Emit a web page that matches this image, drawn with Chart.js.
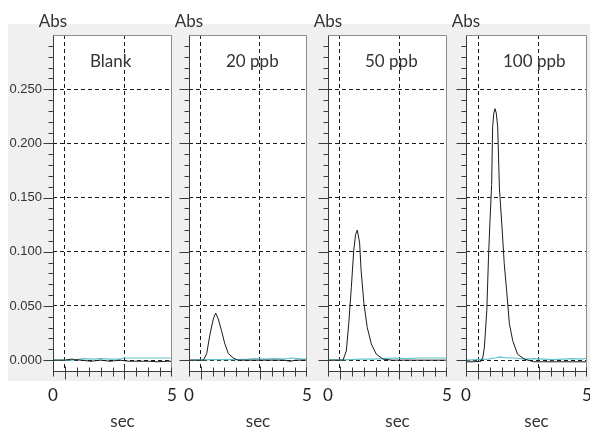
<!DOCTYPE html>
<html>
<head>
<meta charset="utf-8">
<script src="https://cdn.jsdelivr.net/npm/chart.js@4.4.1/dist/chart.umd.min.js"></script>
<style>
html, body { margin: 0; padding: 0; background: #fff; }
#wrap { position: relative; width: 590px; height: 429px; overflow: hidden; }
#bg { position: absolute; left: 8px; top: 24px; width: 582px; height: 357px; background: #f0f0f0; }
canvas { position: absolute; left: 0; top: 0; }
</style>
</head>
<body>
<div id="wrap">
  <div id="bg"></div>
  <canvas id="c0" width="590" height="429"></canvas>
  <canvas id="c1" width="590" height="429"></canvas>
  <canvas id="c2" width="590" height="429"></canvas>
  <canvas id="c3" width="590" height="429"></canvas>
</div>
<script>
// panel titles and tick labels
const panelTitles = ['Blank', '20 ppb', '50 ppb', '100 ppb'];
const yTickLabels = ['0.000', '0.050', '0.100', '0.150', '0.200', '0.250'];
const xTickLabels = ['0', '5'];

// Blank
const blankTime = [0, 0.5, 0.8, 0.9, 1.2, 1.6, 2.0, 2.4, 2.8, 3.2, 3.6, 4.0, 4.4, 4.8, 5.0];
const blankAbs  = [0, 0, 0.001, 0.0005, 0, -0.001, 0, -0.001, 0, -0.001, -0.001, -0.001, -0.0015, -0.001, -0.001];
const blankBkgTime = [0, 0.8, 1.3, 1.7, 2.0, 2.4, 2.8, 3.0, 3.5, 4.0, 4.5, 5.0];
const blankBkg     = [0, 0, 0.0015, 0.001, 0.0015, 0.001, 0.001, 0.002, 0.002, 0.002, 0.002, 0.002];

// 20 ppb
const ppb20Time = [0, 0.3, 0.61, 0.75, 0.89, 1.03, 1.13, 1.24, 1.38, 1.52, 1.67, 1.88, 2.08, 2.5, 3.0, 3.5, 4.0, 4.3, 4.5, 5.0];
const ppb20Abs  = [0, 0, 0, 0.006, 0.024, 0.038, 0.0435, 0.038, 0.027, 0.015, 0.006, 0.002, 0, 0, 0, 0, 0, -0.001, 0, 0];
const ppb20BkgTime = [0, 0.9, 1.5, 2.0, 2.5, 2.8, 3.2, 3.6, 4.0, 4.4, 4.8, 5.0];
const ppb20Bkg     = [0, 0.0005, 0.0005, 0.0005, 0.001, 0.0015, 0.001, 0.0015, 0.001, 0.002, 0.001, 0.001];

// 50 ppb
const ppb50Time = [0, 0.3, 0.63, 0.77, 0.88, 0.98, 1.08, 1.16, 1.23, 1.33, 1.39, 1.51, 1.65, 1.82, 2.03, 2.31, 2.7, 3.2, 3.7, 4.2, 4.7, 5.0];
const ppb50Abs  = [0, 0, 0, 0.0085, 0.036, 0.067, 0.101, 0.116, 0.120, 0.108, 0.083, 0.052, 0.030, 0.015, 0.0055, 0.001, 0, 0, 0, 0, 0, 0];
const ppb50BkgTime = [0, 0.9, 1.4, 1.9, 2.3, 2.8, 3.3, 3.8, 4.3, 4.8, 5.0];
const ppb50Bkg     = [0, 0.0005, 0.001, 0.001, 0.0015, 0.002, 0.0015, 0.002, 0.002, 0.002, 0.002];

// 100 ppb
const ppb100Time = [0, 0.3, 0.62, 0.7, 0.76, 0.86, 0.93, 0.99, 1.06, 1.10, 1.15, 1.2, 1.25, 1.31, 1.38, 1.49, 1.58, 1.68, 1.79, 1.93, 2.13, 2.41, 2.8, 3.2, 3.6, 4.0, 4.4, 4.8, 5.0];
const ppb100Abs  = [-0.0015, -0.0015, -0.001, 0.003, 0.012, 0.046, 0.095, 0.128, 0.162, 0.215, 0.228, 0.232, 0.228, 0.215, 0.159, 0.122, 0.089, 0.064, 0.034, 0.018, 0.0055, 0.001, -0.0015, -0.0015, -0.0015, -0.0015, -0.0015, -0.0015, -0.0015];
const ppb100BkgTime = [0, 0.9, 1.2, 1.4, 1.7, 2.0, 2.4, 2.8, 3.2, 3.6, 4.0, 4.4, 4.8, 5.0];
const ppb100Bkg     = [0, 0.001, 0.002, 0.003, 0.002, 0.002, 0.001, 0.0015, 0.001, 0.0005, 0.001, 0.0015, 0.001, 0.002];

const absSeries = [[blankTime, blankAbs], [ppb20Time, ppb20Abs], [ppb50Time, ppb50Abs], [ppb100Time, ppb100Abs]];
const bkgSeries = [[blankBkgTime, blankBkg], [ppb20BkgTime, ppb20Bkg], [ppb50BkgTime, ppb50Bkg], [ppb100BkgTime, ppb100Bkg]];

// layout of the four panels on the page
const panelLeft  = [53, 189, 328, 466];
const panelRight = [172, 307, 447, 587];
const areaTop = 35, areaBottom = 371;
const yAxisW = 45;

const textFont = '17px Lato, "Open Sans", sans-serif';

function toPoints(t, v) {
  return t.map((x, i) => ({ x: x, y: v[i] }));
}
function isMajorY(v) {
  return Math.round(v * 1000) % 50 === 0;
}

function decoPlugin(title) {
  return {
    id: 'deco',
    beforeDraw(chart) {
      const { ctx, chartArea: a } = chart;
      ctx.save();
      ctx.fillStyle = '#ffffff';
      ctx.fillRect(a.left, a.top, a.right - a.left, a.bottom - a.top);
      ctx.restore();
    },
    afterDraw(chart) {
      const { ctx, chartArea: a } = chart;
      const x = chart.scales.x, y = chart.scales.y;
      const L = Math.round(a.left) + 0.5, R = Math.round(a.right) - 0.5;
      const T = Math.round(a.top) + 0.5, B = Math.round(a.bottom) + 0.5;
      ctx.save();
      // frame
      ctx.lineWidth = 1;
      ctx.strokeStyle = '#8c8c8c';
      ctx.beginPath();
      ctx.moveTo(L, T); ctx.lineTo(R, T); ctx.lineTo(R, B);
      ctx.stroke();
      ctx.strokeStyle = '#3a3a3a';
      ctx.beginPath();
      ctx.moveTo(L, T); ctx.lineTo(L, B);
      ctx.moveTo(L, B); ctx.lineTo(R, B);
      ctx.stroke();
      // y ticks
      ctx.beginPath();
      y.ticks.forEach(t => {
        if (t.value < -0.0001 || t.value > 0.295) return;
        const py = Math.round(y.getPixelForValue(t.value)) + 0.5;
        ctx.moveTo(L - (isMajorY(t.value) ? 10 : 5), py);
        ctx.lineTo(L, py);
      });
      // x ticks
      x.ticks.forEach(t => {
        const v = t.value;
        let px = Math.round(x.getPixelForValue(v)) + 0.5;
        if (v === 5) px = R;
        const major = (v === 0.5 || v === 3);
        ctx.moveTo(px, B - (major ? 5 : 4));
        ctx.lineTo(px, B + (major ? 8 : 5));
      });
      ctx.stroke();
      // texts
      ctx.fillStyle = '#333';
      ctx.font = textFont;
      ctx.textBaseline = 'alphabetic';
      ctx.textAlign = 'center';
      ctx.fillText('Abs', a.left, 27);
      ctx.fillText('sec', (a.left + a.right) / 2 + 10, 427);
      ctx.textAlign = 'left';
      ctx.fillText(title, a.left + 37, 67);
      ctx.restore();
    }
  };
}

panelTitles.forEach((title, i) => {
  const first = i === 0;
  new Chart(document.getElementById('c' + i), {
    type: 'line',
    data: {
      datasets: [
        { data: toPoints(absSeries[i][0], absSeries[i][1]), borderColor: '#1c1c1c', borderWidth: 1, pointRadius: 0, tension: 0, fill: false },
        { data: toPoints(bkgSeries[i][0], bkgSeries[i][1]), borderColor: '#5ec3cc', borderWidth: 1.2, pointRadius: 0, tension: 0, fill: false }
      ]
    },
    options: {
      responsive: false,
      animation: false,
      events: [],
      layout: { padding: { left: first ? panelLeft[i] - yAxisW : panelLeft[i], right: 590 - panelRight[i], top: areaTop, bottom: 0 } },
      plugins: { legend: { display: false }, tooltip: { enabled: false } },
      scales: {
        x: {
          type: 'linear',
          min: 0, max: 5,
          afterFit(s) { s.height = 429 - areaBottom; s.paddingLeft = 0; s.paddingRight = 0; s.paddingTop = 0; s.paddingBottom = 0; },
          border: { display: false, dash: [4, 3] },
          grid: {
            drawTicks: false,
            lineWidth: 1,
            color: c => (c.tick && (c.tick.value === 0.5 || c.tick.value === 3)) ? '#1a1a1a' : 'transparent'
          },
          ticks: {
            stepSize: 0.5,
            autoSkip: false,
            maxRotation: 0,
            padding: 14,
            color: '#222',
            font: { family: 'Lato, "Open Sans", sans-serif', size: 17 },
            callback: v => xTickLabels.find(l => Number(l) === v) || ''
          }
        },
        y: {
          min: -0.01, max: 0.30,
          afterFit(s) { s.width = first ? yAxisW : 0; s.paddingLeft = 0; s.paddingRight = 0; s.paddingTop = 0; s.paddingBottom = 0; },
          border: { display: false, dash: [4, 3] },
          grid: {
            drawTicks: false,
            lineWidth: 1,
            color: c => {
              const v = c.tick ? c.tick.value : -1;
              return (v > -0.001 && v < 0.29 && isMajorY(v)) ? '#1a1a1a' : 'transparent';
            }
          },
          ticks: {
            display: first,
            stepSize: 0.01,
            autoSkip: false,
            padding: 11,
            color: '#333',
            font: { family: '"Liberation Sans Narrow", "Arial Narrow", sans-serif', size: 13 },
            callback: v => yTickLabels.find(l => Math.abs(Number(l) - v) < 1e-6) || ''
          }
        }
      }
    },
    plugins: [decoPlugin(title)]
  });
});
</script>
</body>
</html>
